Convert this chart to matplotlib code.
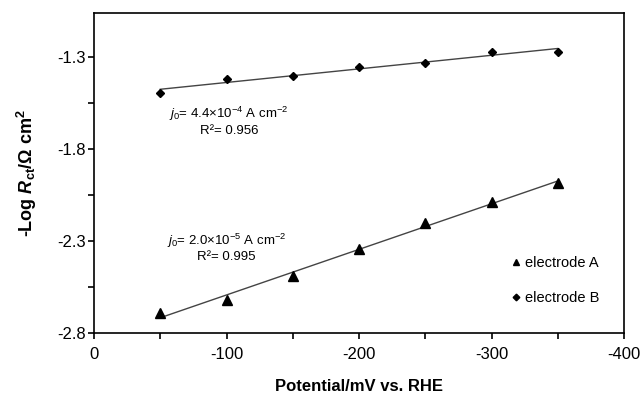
import matplotlib
matplotlib.use("Agg")
import matplotlib.pyplot as plt
import numpy as np

plt.rcParams['font.family'] = ['Liberation Sans', 'DejaVu Sans']
plt.rcParams['mathtext.fontset'] = 'custom'
plt.rcParams['mathtext.rm'] = 'Liberation Sans'
plt.rcParams['mathtext.it'] = 'Liberation Sans:italic'
plt.rcParams['mathtext.bf'] = 'Liberation Sans:bold'
plt.rcParams['mathtext.bfit'] = 'Liberation Sans:bold:italic'

# potential (mV vs RHE) and -log Rct values
potential = [-50, -100, -150, -200, -250, -300, -350]
electrode_a = [-2.69, -2.62, -2.49, -2.345, -2.20, -2.086, -1.986]
electrode_b = [-1.497, -1.42, -1.40, -1.354, -1.33, -1.272, -1.274]

x_ticks = [0, -100, -200, -300, -400]
y_ticks = [-1.3, -1.8, -2.3, -2.8]

fig = plt.figure(figsize=(6.43, 4.0), dpi=100)
ax = fig.add_axes([0.1462, 0.1675, 0.8243, 0.8])

x = np.array(potential)
for y in (electrode_a, electrode_b):
    slope, intercept = np.polyfit(x, y, 1)
    ax.plot(x, slope * x + intercept, color='#444444', lw=1.0, zorder=1)

ax.plot(potential, electrode_a, '^', color='black', ms=6.5, ls='none', label='electrode A', zorder=2)
ax.plot(potential, electrode_b, 'D', color='black', ms=4.5, ls='none', label='electrode B', zorder=2)

ax.set_xlim(0, -400)
ax.set_ylim(-2.8, -1.06)
ax.set_xticks(x_ticks)
ax.set_xticklabels([str(v) for v in x_ticks])
ax.set_xticks([-50, -150, -250, -350], minor=True)
ax.set_yticks(y_ticks)
ax.set_yticklabels([str(v) for v in y_ticks])
ax.tick_params(which='both', direction='out', length=4, width=1.2, labelsize=12)
ax.tick_params(axis='x', which='both', pad=6)
ax.tick_params(axis='y', which='both', pad=2)
ax.set_yticks([-1.55, -2.05, -2.55], minor=True)
for s in ax.spines.values():
    s.set_linewidth(1.2)

ax.set_xlabel('Potential/mV vs. RHE', fontsize=12, fontweight='bold', labelpad=12)
ax.set_ylabel(r'-Log $\mathbfit{R}_{\mathbf{ct}}$/Ω cm$^{\mathbf{2}}$', fontsize=13,
              fontweight='bold', labelpad=13)

ax.text(-102, -1.645, '$j_0$= 4.4×10$^{-4}$ A cm$^{-2}$\nR²= 0.956', fontsize=9.5,
        ha='center', va='center', multialignment='center')
ax.text(-100, -2.335, '$j_0$= 2.0×10$^{-5}$ A cm$^{-2}$\nR²= 0.995', fontsize=9.5,
        ha='center', va='center', multialignment='center')

ax.legend(loc='center left', bbox_to_anchor=(0.775, 0.165), frameon=False, fontsize=10.5,
          handlelength=0.6, handletextpad=0.3, labelspacing=1.45, borderpad=0,
          markerscale=0.75)

fig.savefig('out.png', dpi=100)
